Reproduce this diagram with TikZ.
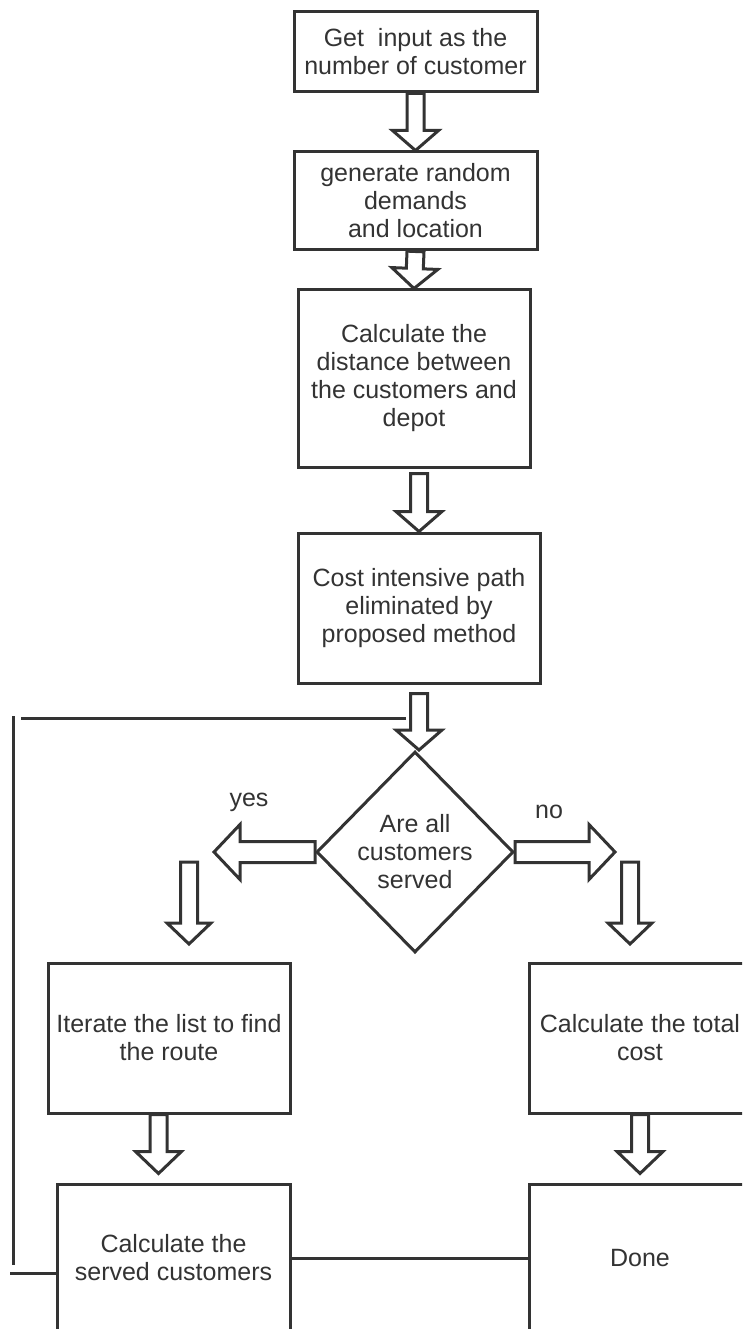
\documentclass[tikz,border=0pt]{standalone}
\usepackage{fontspec}
\setmainfont{Liberation Sans}
\usetikzlibrary{shapes.geometric, calc, positioning}
\definecolor{inkgray}{RGB}{51,51,51}

% hollow block arrow: from #1 to #2, shaft half width #3, head half width #4, head length #5
\newcommand{\hollowarrow}[5]{%
  \path ($(#2)!#5!(#1)$) coordinate (hb);
  \draw[blk] ($(#1)!#3!90:(#2)$) -- ($(hb)!#3!90:(#2)$) -- ($(hb)!#4!90:(#2)$) -- (#2)
    -- ($(hb)!#4!-90:(#2)$) -- ($(hb)!#3!-90:(#2)$) -- ($(#1)!#3!-90:(#2)$) -- cycle;}

\begin{document}
\begin{tikzpicture}[x=1pt, y=1pt, font=\fontsize{25}{28}\selectfont, color=inkgray, text=inkgray,
    stepbox/.style={draw, line width=3pt, align=center, inner sep=0pt},
    decision/.style={draw, diamond, line width=3pt, align=center, inner sep=0pt},
    blk/.style={draw, fill=white, line width=3pt, line join=miter},
    link/.style={draw, line width=3pt}
]
    \useasboundingbox (0,0) rectangle (742,-1329);
    \clip (0,0) rectangle (742,-1329);

    % main column
    \node[stepbox, minimum width=243pt, minimum height=80pt] (input) at (415.5,-52) {Get~ input as the\\number of customer};
    \node[stepbox, minimum width=243pt, minimum height=98pt] (demand) at (415.5,-201) {generate random\\demands\\and location};
    \node[stepbox, minimum width=232pt, minimum height=177pt] (dist) at (414,-378.5) {Calculate the\\distance between\\the customers and\\depot};
    \node[stepbox, minimum width=242pt, minimum height=150pt] (cut) at (419,-608) {Cost intensive path\\eliminated by\\proposed method};
    \node[decision, minimum width=197pt, minimum height=201pt] (decide) at (415,-852) {Are all\\customers\\served};

    % branches
    \node[stepbox, minimum width=242pt, minimum height=150pt] (iter) at (169,-1038) {Iterate the list to find\\the route};
    \node[stepbox, minimum width=222pt, minimum height=150pt] (total) at (640,-1038) {Calculate the total\\cost};
    \node[stepbox, minimum width=233pt, minimum height=148pt] (served) at (173.5,-1258) {Calculate the\\served customers};
    \node[stepbox, minimum width=222pt, minimum height=148pt] (done) at (640,-1258) {Done};

    \node (yeslbl) at (249,-802) {yes};
    \node (nolbl) at (549,-812) {no};

    \coordinate (yestip) at (214,-852);
    \coordinate (notip) at (615,-852);
    \coordinate (yesdrop) at (189,-862);
    \coordinate (yesland) at (189,-944);
    \coordinate (nodrop) at (630,-862);
    \coordinate (noland) at (630,-944);

    % loop back
    \coordinate (loopa) at (406,-718);
    \coordinate (loopb) at (21,-718);
    \coordinate (loopc) at (13,-716);
    \coordinate (loopd) at (13,-1265);
    \coordinate (loope) at (10,-1273);
    \draw[link] (loopa) -- (loopb);
    \draw[link] (loopc) -- (loopd);
    \draw[link] (loope) -- (loope -| served.west);
    \draw[link] (served.east) -- (done.west);

    \hollowarrow{input.south}{demand.north}{8.5pt}{23pt}{20pt}
    \hollowarrow{demand.south}{dist.north}{8.5pt}{23pt}{20pt}
    \hollowarrow{$(dist.south -| cut.north)+(0,-5)$}{cut.north}{8.5pt}{23pt}{20pt}
    \hollowarrow{$(cut.south)+(0,-9)$}{cut.south |- decide.north}{8.5pt}{23pt}{20pt}
    \hollowarrow{decide.west}{yestip}{10.5pt}{27.5pt}{26pt}
    \hollowarrow{decide.east}{notip}{10.5pt}{27.5pt}{26pt}
    \hollowarrow{yesdrop}{yesland}{8.5pt}{22pt}{21pt}
    \hollowarrow{nodrop}{noland}{8.5pt}{22pt}{21pt}
    \hollowarrow{$(iter.south)+(-10.5,0)$}{$(served.north)+(-15,9)$}{8.5pt}{23pt}{22pt}
    \hollowarrow{total.south}{$(done.north)+(0,9)$}{8.5pt}{23pt}{22pt}
\end{tikzpicture}
\end{document}
